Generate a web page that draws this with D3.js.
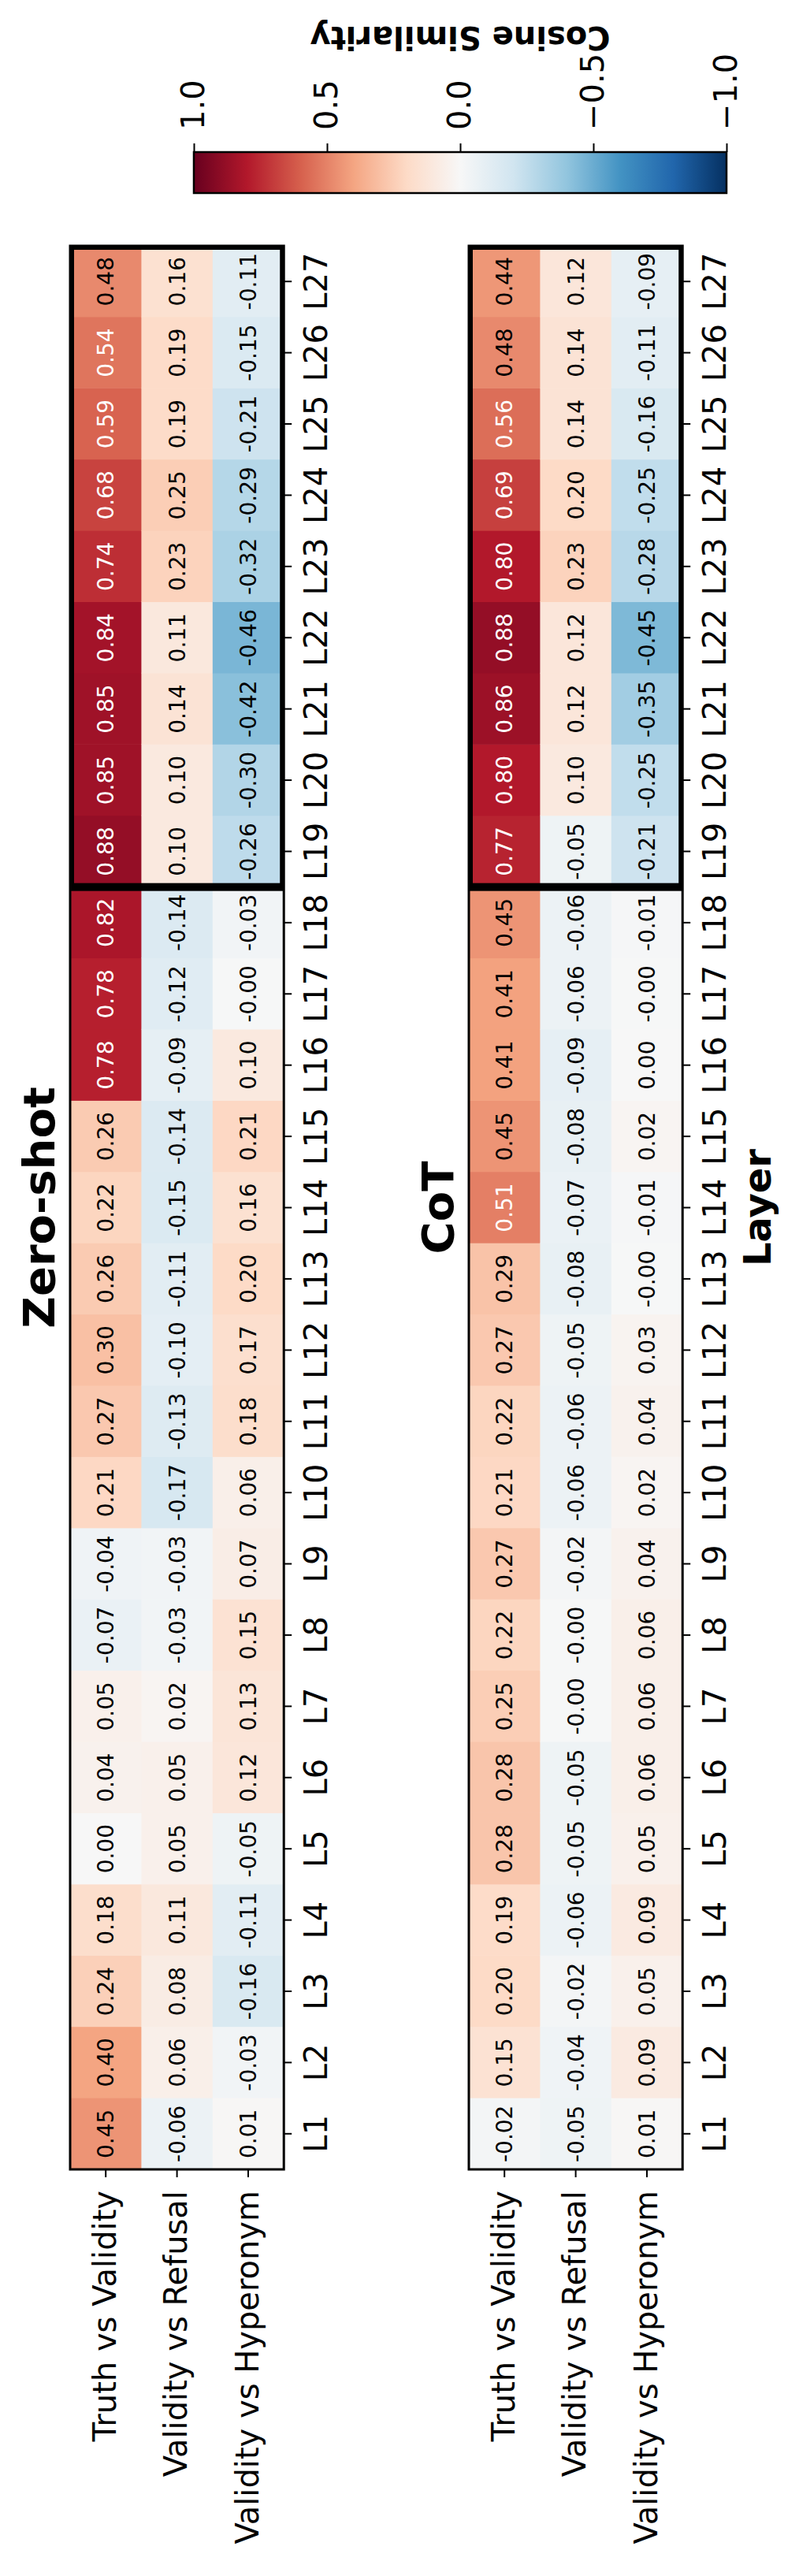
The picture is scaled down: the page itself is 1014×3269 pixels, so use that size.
<!DOCTYPE html>
<html>
<head>
<meta charset="utf-8">
<script src="https://cdn.jsdelivr.net/npm/d3@7"></script>
<style>
  body { margin: 0; background: #fff; }
  text { font-family: "DejaVu Sans", sans-serif; }
</style>
</head>
<body>
<svg id="chart"></svg>
<script>
// categories
var layers = ["L1","L2","L3","L4","L5","L6","L7","L8","L9","L10","L11","L12","L13","L14",
              "L15","L16","L17","L18","L19","L20","L21","L22","L23","L24","L25","L26","L27"];
var pairs = ["Truth vs Validity", "Validity vs Refusal", "Validity vs Hyperonym"];
var highlight = ["L19", "L27"];   // boxed layer range

// Zero-shot
var zeroTruthValidity    = [0.45,0.40,0.24,0.18,0.00,0.04,0.05,-0.07,-0.04,0.21,0.27,0.30,0.26,0.22,0.26,0.78,0.78,0.82,0.88,0.85,0.85,0.84,0.74,0.68,0.59,0.54,0.48];
var zeroValidityRefusal  = [-0.06,0.06,0.08,0.11,0.05,0.05,0.02,-0.03,-0.03,-0.17,-0.13,-0.10,-0.11,-0.15,-0.14,-0.09,-0.12,-0.14,0.10,0.10,0.14,0.11,0.23,0.25,0.19,0.19,0.16];
var zeroValidityHyperonym= [0.01,-0.03,-0.16,-0.11,-0.05,0.12,0.13,0.15,0.07,0.06,0.18,0.17,0.20,0.16,0.21,0.10,-0.003,-0.03,-0.26,-0.30,-0.42,-0.46,-0.32,-0.29,-0.21,-0.15,-0.11];

// CoT
var cotTruthValidity     = [-0.02,0.15,0.20,0.19,0.28,0.28,0.25,0.22,0.27,0.21,0.22,0.27,0.29,0.51,0.45,0.41,0.41,0.45,0.77,0.80,0.86,0.88,0.80,0.69,0.56,0.48,0.44];
var cotValidityRefusal   = [-0.05,-0.04,-0.02,-0.06,-0.05,-0.05,-0.003,-0.003,-0.02,-0.06,-0.06,-0.05,-0.08,-0.07,-0.08,-0.09,-0.06,-0.06,-0.05,0.10,0.12,0.12,0.23,0.20,0.14,0.14,0.12];
var cotValidityHyperonym = [0.01,0.09,0.05,0.09,0.05,0.06,0.06,0.06,0.04,0.02,0.04,0.03,-0.003,-0.01,0.02,0.00,-0.003,-0.01,-0.21,-0.25,-0.35,-0.45,-0.28,-0.25,-0.16,-0.11,-0.09];

var cbarTicks = [1.0, 0.5, 0.0, -0.5, -1.0];
// RdBu_r colour stops, +1 .. -1
var rdbu = ["#67001f","#b2182b","#d6604d","#f4a582","#fddbc7","#f7f7f7","#d1e5f0","#92c5de","#4393c3","#2166ac","#053061"];

// figure is laid out landscape, then turned 90 degrees
var W = 3269, H = 1014;
var svg = d3.select("#chart").attr("width", H).attr("height", W);
var fig = svg.append("g").attr("transform", "translate(0," + W + ") rotate(-90)");

var color = d3.scaleLinear()
    .domain(rdbu.map(function(c, i){ return 1 - i * 0.2; }))
    .range(rdbu);

var x = d3.scaleBand().domain(layers).range([516, 2957]);

var defs = svg.append("defs");

function drawPanel(id, top, title, rowsData, xlabel) {
  var y = d3.scaleBand().domain(pairs).range([top, top + 3 * x.bandwidth()]);
  var g = fig.append("g").attr("class", "panel");
  var cells = [];
  rowsData.forEach(function(vals, r){
    vals.forEach(function(v, c){ cells.push({pair: pairs[r], layer: layers[c], v: v}); });
  });

  g.selectAll("rect.cell")
    .data(cells)
    .enter().append("rect")
    .attr("class", "cell")
    .attr("x", function(d){ return x(d.layer); })
    .attr("y", function(d){ return y(d.pair); })
    .attr("width", x.bandwidth() + 0.6)
    .attr("height", y.bandwidth() + 0.6)
    .style("fill", function(d){ return color(d.v); });

  g.selectAll("text.val")
    .data(cells)
    .enter().append("text")
    .attr("class", "val")
    .attr("x", function(d){ return x(d.layer) + x.bandwidth() / 2; })
    .attr("y", function(d){ return y(d.pair) + y.bandwidth() / 2; })
    .attr("dy", "0.36em")
    .attr("text-anchor", "middle")
    .style("font-size", "28px")
    .style("fill", function(d){ return Math.abs(d.v) > 0.5 ? "#fff" : "#000"; })
    .text(function(d){ return d.v.toFixed(2); });

  var x0 = x.range()[0], x1 = x.range()[1];
  var y0 = y.range()[0], y1 = y.range()[1];

  // thick box around the late layers, clipped to the axes
  defs.append("clipPath").attr("id", "clip-" + id)
    .append("rect").attr("x", x0).attr("y", y0).attr("width", x1 - x0).attr("height", y1 - y0);
  g.append("rect")
    .attr("clip-path", "url(#clip-" + id + ")")
    .attr("x", x(highlight[0]))
    .attr("y", y0)
    .attr("width", x(highlight[1]) + x.bandwidth() - x(highlight[0]))
    .attr("height", y1 - y0)
    .style("fill", "none").style("stroke", "#000").style("stroke-width", 10);

  // spine
  g.append("rect")
    .attr("x", x0).attr("y", y0).attr("width", x1 - x0).attr("height", y1 - y0)
    .style("fill", "none").style("stroke", "#000").style("stroke-width", 3);

  var xAxis = g.append("g")
    .attr("transform", "translate(0," + y1 + ")")
    .call(d3.axisBottom(x).tickSize(10).tickPadding(16).tickSizeOuter(0));
  xAxis.select(".domain").remove();
  xAxis.selectAll("line").style("stroke", "#000").style("stroke-width", 2);
  xAxis.selectAll("text").style("font-size", "40px").style("fill", "#000")
    .style("font-family", "DejaVu Sans");

  var yAxis = g.append("g")
    .attr("transform", "translate(" + x0 + ",0)")
    .call(d3.axisLeft(y).tickSize(10).tickPadding(17).tickSizeOuter(0));
  yAxis.select(".domain").remove();
  yAxis.selectAll("line").style("stroke", "#000").style("stroke-width", 2);
  yAxis.selectAll("text").style("font-size", "40px").style("fill", "#000")
    .style("font-family", "DejaVu Sans");

  g.append("text")
    .attr("x", (x0 + x1) / 2)
    .attr("y", y0 - 20)
    .attr("text-anchor", "middle")
    .style("font-size", "56px").style("font-weight", "bold")
    .text(title);

  if (xlabel) {
    g.append("text")
      .attr("x", (x0 + x1) / 2)
      .attr("y", y1 + 112)
      .attr("text-anchor", "middle")
      .style("font-size", "48px").style("font-weight", "bold")
      .text(xlabel);
  }
}

drawPanel("zero", 89, "Zero-shot", [zeroTruthValidity, zeroValidityRefusal, zeroValidityHyperonym], null);
drawPanel("cot", 595, "CoT", [cotTruthValidity, cotValidityRefusal, cotValidityHyperonym], "Layer");

// colorbar
var cy = d3.scaleLinear().domain([1, -1]).range([246, 922]);
var grad = defs.append("linearGradient").attr("id", "cbar-grad")
  .attr("x1", 0).attr("y1", 0).attr("x2", 0).attr("y2", 1);
grad.selectAll("stop")
  .data(color.domain())
  .enter().append("stop")
  .attr("offset", function(d){ return (cy(d) - 246) / (922 - 246); })
  .attr("stop-color", function(d){ return color(d); });

var cbX = 3024, cbW = 52;
fig.append("rect")
  .attr("x", cbX).attr("y", cy(1)).attr("width", cbW).attr("height", cy(-1) - cy(1))
  .style("fill", "url(#cbar-grad)").style("stroke", "#000").style("stroke-width", 2.5);

var cAxis = fig.append("g")
  .attr("transform", "translate(" + (cbX + cbW) + ",0)")
  .call(d3.axisRight(cy).tickValues(cbarTicks).tickSize(11).tickPadding(17).tickFormat(d3.format(".1f")));
cAxis.select(".domain").remove();
cAxis.selectAll("line").style("stroke", "#000").style("stroke-width", 2);
cAxis.selectAll("text").style("font-size", "40px").style("fill", "#000")
  .style("font-family", "DejaVu Sans");

fig.append("text")
  .attr("transform", "translate(3235," + (cy(0)) + ") rotate(-90)")
  .attr("text-anchor", "middle")
  .style("font-size", "40px").style("font-weight", "bold")
  .text("Cosine Similarity");
</script>
</body>
</html>
